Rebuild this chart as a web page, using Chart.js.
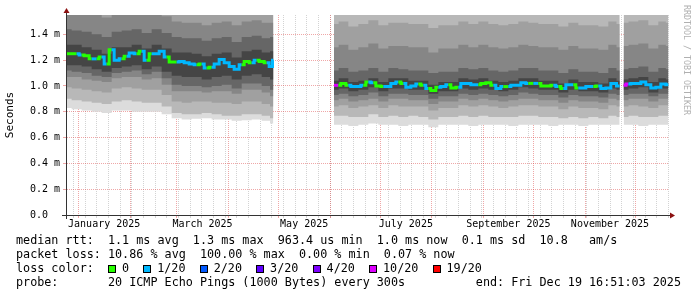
<!DOCTYPE html>
<html>
<head>
<meta charset="utf-8">
<script src="https://cdn.jsdelivr.net/npm/chart.js@4.4.1/dist/chart.umd.min.js"></script>
<style>
  html, body { margin: 0; padding: 0; background: #fff; }
  #wrap { position: relative; width: 697px; height: 297px; overflow: hidden; }
  #chart { position: absolute; left: 0; top: 0; }
  .ln { position: absolute; left: 16px; font: 11.75px 'DejaVu Sans Mono', monospace; line-height: 14px; white-space: pre; color: #000; }
  .box { display: inline-block; width: 6px; height: 6px; border: 1px solid #000; margin-right: 6px; vertical-align: -1px; }
  #credit { position: absolute; left: 682px; top: 5px; writing-mode: vertical-rl; font: 8.3px 'DejaVu Sans Mono', monospace; line-height: 10px; color: #b0b0b0; white-space: pre; }
</style>
</head>
<body>
<div id="wrap">
  <canvas id="chart" width="697" height="297"></canvas>
  <div id="credit">RRDTOOL / TOBI OETIKER</div>
  <div class="ln" style="top:233px">median rtt:  1.1 ms avg  1.3 ms max  963.4 us min  1.0 ms now  0.1 ms sd  10.8   am/s</div>
  <div class="ln" style="top:247px">packet loss: 10.86 % avg  100.00 % max  0.00 % min  0.07 % now</div>
  <div class="ln" id="lossLine" style="top:261px"></div>
  <div class="ln" style="top:275px">probe:       20 ICMP Echo Pings (1000 Bytes) every 300s</div>
  <div class="ln" style="top:275px; left:auto; right:16px">end: Fri Dec 19 16:51:03 2025</div>
</div>
<script>
// x values are days since 1 Jan 2025, y values are milliseconds

// median rtt, one sample every ~3 days, null = no data
const rttDays = [-7,-4,-1,2,5,8,11,14,17,20,23,26,29,32,35,38,41,44,47,50,53,56,59,62,65,68,71,74,77,80,83,86,89,92,95,98,101,104,107,110,113,116,117,
  135,
  153.4,156,159,162,165,168,171,174,177,180,183,186,189,192,195,198,201,204,207,210,213,216,219,222,225,228,231,234,237,240,243,246,249,252,255,258,261,264,267,270,273,276,279,282,285,288,291,294,297,300,303,306,309,312,315,318,321,324.8,
  326,
  327.2,330,333,336,339,342,345,348,351,354];
const rttMedian = [1.25,1.25,1.25,1.24,1.235,1.21,1.21,1.225,1.17,1.28,1.20,1.21,1.23,1.255,1.25,1.27,1.20,1.25,1.25,1.27,1.225,1.185,1.185,1.19,1.18,1.17,1.165,1.17,1.14,1.145,1.17,1.205,1.18,1.15,1.13,1.165,1.19,1.18,1.20,1.19,1.18,1.15,1.20,
  null,
  1.005,1.005,1.02,1.005,0.995,0.995,1.005,1.03,1.025,1.0,0.995,0.995,1.02,1.03,1.02,0.99,1.0,1.015,1.005,0.98,0.965,0.99,0.995,1.01,0.985,0.99,1.02,1.02,1.01,1.01,1.02,1.025,1.005,0.98,0.995,0.995,1.005,1.005,1.025,1.02,1.02,1.02,1.0,1.0,1.005,0.995,0.98,1.01,1.01,0.985,0.985,0.995,0.995,1.0,0.98,0.985,1.02,1.0,
  null,
  1.005,1.015,1.02,1.02,1.03,1.01,0.985,0.99,1.015,1.01];
// lost pings out of 20 per sample
const rttLoss = [0,0,1,0,0,1,0,1,0,1,1,0,1,1,0,1,0,1,1,1,0,0,1,1,1,1,0,1,0,1,1,1,1,1,1,0,0,1,0,0,1,1,10,
  0,
  10,0,0,1,1,1,0,1,0,0,1,1,1,0,1,1,1,0,1,0,0,1,1,0,0,1,1,1,1,0,0,0,1,1,0,1,1,1,1,0,1,0,0,0,1,0,1,1,0,1,1,1,0,1,1,1,1,1,
  0,
  10,1,1,1,1,1,1,1,1,1];

// smoke: sorted ping spread, one sample every ~6 days
const smokeDays = [-7,-1,5,11,17,23,29,35,41,47,53,59,65,71,77,83,89,95,101,107,113,117,
  135,
  153.4,159,165,171,177,183,189,195,201,207,213,219,225,231,237,243,249,255,261,267,273,279,285,291,297,303,309,315,321,324.8,
  326,
  327.2,333,339,345,351,354];
const maxPing = [2.4,2.3,2.3,2.2,2.2,2.3,2.4,2.4,2.3,2.4,2.3,2.2,2.1,2.2,2.1,2.2,2.2,2.1,2.2,2.3,2.2,2.2,
  null,
  1.9,2.0,1.9,1.9,2.0,1.9,2.0,1.9,1.9,1.9,1.8,1.9,1.9,2.0,1.9,2.0,1.9,1.9,1.9,2.0,2.0,1.9,1.9,1.8,1.9,1.9,1.9,1.8,2.0,1.9,
  null,
  1.9,2.0,2.0,1.9,2.0,1.9];
const hi3 = [1.85,1.84,1.82,1.80,1.78,1.83,1.85,1.85,1.81,1.84,1.80,1.74,1.72,1.73,1.70,1.72,1.74,1.70,1.74,1.75,1.72,1.73,
  null,
  1.48,1.50,1.46,1.48,1.51,1.47,1.49,1.49,1.48,1.48,1.45,1.47,1.47,1.50,1.48,1.50,1.48,1.47,1.48,1.50,1.49,1.48,1.48,1.46,1.49,1.47,1.47,1.46,1.50,1.48,
  null,
  1.49,1.50,1.51,1.47,1.50,1.49];
const hi4 = [1.58,1.57,1.56,1.55,1.53,1.57,1.58,1.58,1.55,1.58,1.54,1.50,1.49,1.49,1.47,1.49,1.50,1.47,1.50,1.51,1.49,1.49,
  null,
  1.30,1.32,1.28,1.30,1.33,1.29,1.31,1.31,1.30,1.30,1.26,1.29,1.29,1.32,1.30,1.32,1.30,1.29,1.30,1.32,1.31,1.30,1.30,1.28,1.31,1.29,1.29,1.28,1.32,1.30,
  null,
  1.31,1.32,1.33,1.29,1.32,1.31];
const hi5 = [1.44,1.43,1.42,1.40,1.38,1.42,1.43,1.44,1.41,1.44,1.41,1.38,1.37,1.37,1.35,1.37,1.38,1.34,1.38,1.39,1.37,1.38,
  null,
  1.12,1.14,1.11,1.12,1.14,1.11,1.14,1.13,1.12,1.12,1.10,1.11,1.11,1.14,1.13,1.14,1.12,1.11,1.12,1.14,1.14,1.12,1.12,1.10,1.13,1.11,1.11,1.10,1.14,1.12,
  null,
  1.13,1.14,1.15,1.11,1.14,1.13];
const hi6 = [1.32,1.32,1.30,1.28,1.25,1.30,1.30,1.32,1.29,1.32,1.29,1.26,1.26,1.25,1.23,1.25,1.26,1.22,1.27,1.28,1.26,1.27,
  null,
  1.04,1.06,1.03,1.04,1.06,1.03,1.06,1.06,1.04,1.04,1.01,1.03,1.03,1.06,1.05,1.06,1.04,1.03,1.04,1.06,1.06,1.04,1.04,1.02,1.05,1.03,1.03,1.02,1.06,1.04,
  null,
  1.05,1.06,1.07,1.03,1.06,1.05];
const lo6 = [1.16,1.16,1.15,1.13,1.11,1.14,1.15,1.16,1.13,1.15,1.11,1.08,1.07,1.07,1.05,1.07,1.08,1.05,1.08,1.09,1.07,1.05,
  null,
  0.97,0.98,0.96,0.97,0.99,0.96,0.98,0.98,0.97,0.97,0.94,0.96,0.96,0.98,0.97,0.98,0.97,0.96,0.97,0.99,0.98,0.97,0.97,0.95,0.97,0.96,0.96,0.95,0.98,0.97,
  null,
  0.97,0.98,0.99,0.95,0.98,0.98];
const lo5 = [1.12,1.11,1.10,1.08,1.07,1.10,1.11,1.12,1.09,1.11,1.06,1.01,1.00,1.00,0.99,1.00,1.01,0.98,1.02,1.02,1.00,0.97,
  null,
  0.93,0.94,0.92,0.93,0.95,0.92,0.94,0.94,0.93,0.93,0.90,0.92,0.92,0.94,0.93,0.94,0.93,0.92,0.93,0.95,0.94,0.93,0.93,0.91,0.93,0.92,0.92,0.91,0.94,0.93,
  null,
  0.93,0.94,0.94,0.92,0.94,0.94];
const lo4 = [1.07,1.07,1.05,1.04,1.03,1.06,1.07,1.07,1.05,1.06,1.01,0.96,0.96,0.96,0.95,0.96,0.96,0.94,0.97,0.97,0.95,0.92,
  null,
  0.89,0.90,0.88,0.89,0.90,0.88,0.90,0.90,0.89,0.89,0.86,0.88,0.88,0.90,0.89,0.90,0.89,0.88,0.89,0.90,0.90,0.89,0.89,0.87,0.89,0.88,0.88,0.87,0.90,0.89,
  null,
  0.89,0.90,0.90,0.88,0.90,0.90];
const lo3 = [0.99,0.98,0.97,0.96,0.95,0.98,0.99,0.98,0.97,0.97,0.93,0.88,0.87,0.88,0.88,0.87,0.87,0.86,0.88,0.88,0.86,0.84,
  null,
  0.84,0.85,0.83,0.84,0.85,0.83,0.85,0.84,0.84,0.84,0.81,0.83,0.83,0.85,0.84,0.85,0.84,0.83,0.84,0.85,0.85,0.84,0.84,0.82,0.84,0.83,0.83,0.82,0.85,0.84,
  null,
  0.84,0.85,0.84,0.83,0.85,0.85];
const lo2 = [0.90,0.89,0.88,0.87,0.86,0.88,0.89,0.88,0.87,0.87,0.84,0.79,0.78,0.78,0.79,0.78,0.77,0.77,0.78,0.78,0.77,0.75,
  null,
  0.77,0.77,0.76,0.76,0.78,0.76,0.77,0.76,0.77,0.76,0.74,0.76,0.76,0.77,0.76,0.77,0.76,0.76,0.76,0.77,0.77,0.76,0.76,0.75,0.76,0.75,0.76,0.75,0.77,0.76,
  null,
  0.76,0.77,0.76,0.76,0.77,0.77];
const lo1 = [0.83,0.82,0.81,0.80,0.79,0.81,0.81,0.80,0.80,0.80,0.78,0.75,0.74,0.745,0.75,0.74,0.74,0.73,0.735,0.74,0.73,0.71,
  null,
  0.70,0.70,0.69,0.70,0.71,0.70,0.70,0.69,0.70,0.70,0.68,0.70,0.70,0.70,0.69,0.70,0.70,0.70,0.69,0.70,0.70,0.70,0.69,0.70,0.70,0.69,0.70,0.70,0.70,0.70,
  null,
  0.70,0.70,0.69,0.70,0.70,0.70];

// axes
const monthLabels = ['January 2025', 'March 2025', 'May 2025', 'July 2025', 'September 2025', 'November 2025'];
const labelMonths = [0, 2, 4, 6, 8, 10];
const yTicks = [0, 0.2, 0.4, 0.6, 0.8, 1.0, 1.2, 1.4];
const yTickLabels = ['0.0  ', '0.2 m', '0.4 m', '0.6 m', '0.8 m', '1.0 m', '1.2 m', '1.4 m'];

// loss legend
const lossSteps = [0, 1, 2, 3, 4, 10, 19];
const lossColors = ['#26ff00', '#00b8ff', '#0059ff', '#5e00ff', '#7e00ff', '#dd00ff', '#ff0000'];

const MAJOR = 'rgba(220,60,60,0.45)';
const MINOR = 'rgba(128,128,128,0.35)';
const NONE = 'rgba(0,0,0,0)';

function lossColor(n) {
  let c = lossColors[0];
  lossSteps.forEach((s, i) => { if (n >= s) c = lossColors[i]; });
  return c;
}

const day0 = Date.UTC(2025, 0, 1);
const dayOf = (y, m, d) => (Date.UTC(y, m, d) - day0) / 86400000;

const monthStarts = [];
for (let m = 0; m < 12; m++) monthStarts.push(dayOf(2025, m, 1));
const labelDays = labelMonths.map(m => (dayOf(2025, m, 1) + dayOf(2025, m + 1, 1)) / 2);
const weekDays = [];
for (let d = dayOf(2024, 11, 29); d <= 355; d += 7) weekDays.push(d);
// tick order: weekly (minor grid), month labels (no grid), month starts (major grid)
const xTickValues = weekDays.concat(labelDays, monthStarts);
const nWeek = weekDays.length, nLabel = labelDays.length;

const yGridValues = [];
for (let i = 0; i <= 15; i++) yGridValues.push(i / 10);

function xGridColor(c) {
  const i = c.index;
  if (i === undefined || i < nWeek) return MINOR;
  if (i < nWeek + nLabel) return NONE;
  return MAJOR;
}
function yGridColor(c) {
  if (!c.tick) return MINOR;
  return Math.round(c.tick.value * 10) % 2 === 0 ? MAJOR : MINOR;
}

const pts = (xs, ys) => xs.map((x, i) => ({ x: x, y: ys[i] }));

// smoke bands, outer (light) to inner (dark)
const bands = [
  [lo1, maxPing, '#dcdcdc'],
  [lo2, maxPing, '#b8b8b8'],
  [lo3, hi3, '#a0a0a0'],
  [lo4, hi4, '#868686'],
  [lo5, hi5, '#666666'],
  [lo6, hi6, '#454545']
];

const datasets = [];
bands.forEach(([lo, hi, color], k) => {
  const order = 20 - k * 2;
  datasets.push({
    data: pts(smokeDays, lo), borderWidth: 0, borderColor: NONE,
    pointRadius: 0, fill: false, stepped: 'middle', order: order
  });
  datasets.push({
    data: pts(smokeDays, hi), borderWidth: 0, borderColor: NONE, backgroundColor: color,
    pointRadius: 0, fill: '-1', stepped: 'middle', order: order
  });
});
datasets.push({
  data: pts(rttDays, rttMedian), borderWidth: 3, pointRadius: 0, fill: false,
  stepped: 'middle', order: 0, borderColor: lossColors[1],
  segment: { borderColor: c => lossColor(rttLoss[c.p0DataIndex]) }
});

// axis lines with arrow heads, like rrdtool
const axisArrows = {
  id: 'axisArrows',
  afterDraw(chart) {
    const { ctx, chartArea: a } = chart;
    const x0 = a.left + 0.5, y0 = a.bottom + 0.5;
    ctx.save();
    ctx.strokeStyle = '#333';
    ctx.lineWidth = 1;
    ctx.beginPath();
    ctx.moveTo(a.left - 4, y0); ctx.lineTo(a.right + 2, y0);
    ctx.moveTo(x0, a.bottom + 4); ctx.lineTo(x0, a.top - 3);
    ctx.stroke();
    ctx.fillStyle = '#8b1010';
    ctx.beginPath();
    ctx.moveTo(x0 - 3, a.top - 2); ctx.lineTo(x0 + 3, a.top - 2); ctx.lineTo(x0, a.top - 7);
    ctx.closePath(); ctx.fill();
    ctx.beginPath();
    ctx.moveTo(a.right + 1, y0 - 3); ctx.lineTo(a.right + 1, y0 + 3); ctx.lineTo(a.right + 6, y0);
    ctx.closePath(); ctx.fill();
    ctx.restore();
  }
};

Chart.defaults.font.family = "'DejaVu Sans Mono', monospace";

new Chart(document.getElementById('chart'), {
  type: 'line',
  data: { datasets: datasets },
  options: {
    responsive: false,
    animation: false,
    events: [],
    layout: { padding: { left: 0, right: 28, top: 15, bottom: 60 } },
    plugins: { legend: { display: false }, tooltip: { enabled: false } },
    scales: {
      x: {
        type: 'linear', min: -7.4, max: 354.4, z: 1,
        afterBuildTicks: s => { s.ticks = xTickValues.map(v => ({ value: v })); },
        afterFit: s => { s.height = 22; },
        grid: { color: xGridColor, tickColor: xGridColor, tickLength: 3, lineWidth: 1 },
        border: { display: true, color: '#333', width: 1, dash: [1, 1] },
        ticks: {
          autoSkip: false, maxRotation: 0, minRotation: 0, padding: 0, color: '#000',
          font: { size: 10 },
          callback: (v, i) => (i >= nWeek && i < nWeek + nLabel) ? monthLabels[i - nWeek] : ''
        }
      },
      y: {
        type: 'linear', min: 0, max: 1.55, z: 1,
        afterBuildTicks: s => { s.ticks = yGridValues.map(v => ({ value: v })); },
        afterFit: s => { s.width = 66; },
        grid: { color: yGridColor, tickColor: yGridColor, tickLength: 3, lineWidth: 1 },
        border: { display: true, color: '#333', width: 1, dash: [1, 1] },
        ticks: {
          padding: 3, color: '#000', font: { size: 10 },
          callback: v => {
            const i = yTicks.findIndex(t => Math.abs(t - v) < 1e-9);
            return i >= 0 ? yTickLabels[i] : '';
          }
        },
        title: {
          display: true, text: 'Seconds', color: '#000',
          font: { size: 11 }, padding: { top: 4, bottom: 0 }
        }
      }
    }
  },
  plugins: [axisArrows]
});

// loss colour legend line
const lossLine = document.getElementById('lossLine');
lossLine.appendChild(document.createTextNode('loss color:  '));
lossSteps.forEach((s, i) => {
  const b = document.createElement('span');
  b.className = 'box';
  b.style.background = lossColors[i];
  lossLine.appendChild(b);
  lossLine.appendChild(document.createTextNode((s === 0 ? '0' : s + '/20') + '  '));
});
</script>
</body>
</html>
